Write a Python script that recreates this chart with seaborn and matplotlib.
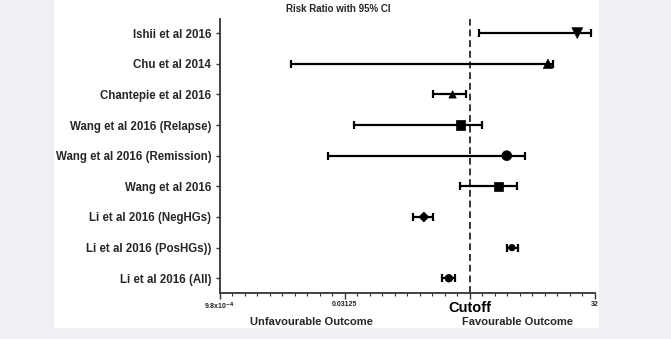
import numpy as np
import pandas as pd
import seaborn as sns
import matplotlib
matplotlib.use("Agg")
import matplotlib.pyplot as plt
from matplotlib.patches import Rectangle
from matplotlib.ticker import FixedLocator, NullFormatter

# Study labels, top to bottom
studies = [
    "Ishii et al 2016",
    "Chu et al 2014",
    "Chantepie et al 2016",
    "Wang et al 2016 (Relapse)",
    "Wang et al 2016 (Remission)",
    "Wang et al 2016",
    "Li et al 2016 (NegHGs)",
    "Li et al 2016 (PosHGs))",
    "Li et al 2016 (All)",
]
# Risk ratio estimates and 95% confidence limits
risk_ratio = [19.6, 8.7, 0.62, 0.77, 2.78, 2.20, 0.28, 3.21, 0.56]
ci_lower = [1.28, 0.0071, 0.36, 0.040, 0.0198, 0.77, 0.21, 2.82, 0.46]
ci_upper = [28.9, 10.0, 0.90, 1.39, 4.59, 3.65, 0.36, 3.75, 0.67]
# Marker shape per study
marker_shapes = ["v", "^", "^", "s", "o", "s", "D", "o", "o"]
marker_sizes = [60, 45, 28, 45, 50, 40, 25, 22, 30]

# Axis tick values (log2 scale)
major_ticks = [2.0 ** -10, 2.0 ** -5, 1.0, 2.0 ** 5]
major_labels = [r"9.8x10$^{-4}$", "0.03125", "Cutoff", "32"]

df = pd.DataFrame({
    "study": studies,
    "rr": risk_ratio,
    "lo": ci_lower,
    "hi": ci_upper,
    "row": np.arange(len(studies)),
})

sns.set_theme(style="white")
plt.rcParams["font.family"] = ["Liberation Sans", "DejaVu Sans"]
plt.rcParams["font.weight"] = "bold"

W, H = 671, 339
fig = plt.figure(figsize=(W / 100, H / 100), dpi=100)
fig.patch.set_facecolor("#eff0f5")
fig.patches.append(Rectangle((54 / W, 1 - 327.5 / H), (599 - 54) / W, 327.5 / H,
                             transform=fig.transFigure, facecolor="white",
                             edgecolor="none", zorder=-10))

ax = fig.add_axes([219.5 / W, 1 - 293 / H, (595 - 219.5) / W, (293 - 19) / H])
ax.set_zorder(1)
ax.set_facecolor("none")
ax.set_xscale("log", base=2)

# Confidence intervals
ax.errorbar(df["rr"], df["row"],
            xerr=[df["rr"] - df["lo"], df["hi"] - df["rr"]],
            fmt="none", ecolor="black", elinewidth=1.6,
            capsize=3.2, capthick=1.6, zorder=2)

# Point estimates
sns.scatterplot(data=df, x="rr", y="row", style="study",
                markers=dict(zip(studies, marker_shapes)),
                size="study", sizes=dict(zip(studies, marker_sizes)),
                color="black", edgecolor="black", linewidth=0.5,
                legend=False, ax=ax, zorder=3)

ax.axvline(1.0, color="black", lw=1.1, ls=(0, (4.5, 2.5)), zorder=1)

ax.set_xlim(2.0 ** -10, 2.0 ** 5)
ax.set_ylim(8.48, -0.46)

ax.xaxis.set_major_locator(FixedLocator(major_ticks))
ax.set_xticklabels(major_labels)
ax.xaxis.set_minor_locator(FixedLocator([2.0 ** (k / 2) for k in range(-20, 11)]))
ax.xaxis.set_minor_formatter(NullFormatter())
for lab in ax.get_xticklabels():
    lab.set_fontsize(5)
    lab.set_fontweight("bold")
    lab.set_color("#222222")
ax.get_xticklabels()[2].set_fontsize(10.5)
ax.get_xticklabels()[2].set_color("black")

ax.set_yticks(df["row"])
ax.set_yticklabels(studies, fontsize=8.3, fontweight="bold")

ax.tick_params(axis="x", which="major", direction="out", length=4, width=1.0,
               color="#333333", pad=1.5, bottom=True)
ax.tick_params(axis="x", which="minor", direction="out", length=2.2, width=0.8,
               color="#333333", bottom=True)
ax.tick_params(axis="y", direction="out", length=3, width=1.0, color="#333333",
               pad=3, left=True)

for side in ["top", "right"]:
    ax.spines[side].set_visible(False)
for side in ["left", "bottom"]:
    ax.spines[side].set_color("#333333")
    ax.spines[side].set_linewidth(1.3)

ax.set_xlabel("")
ax.set_ylabel("")

fig.text(338 / W, 1 - 9 / H, "Risk Ratio with 95% CI", ha="center", va="center",
         fontsize=7, fontweight="bold")
fig.text(311 / W, 1 - 322 / H, "Unfavourable Outcome", ha="center", va="center",
         fontsize=8, fontweight="bold")
fig.text(517 / W, 1 - 322 / H, "Favourable Outcome", ha="center", va="center",
         fontsize=8, fontweight="bold")

fig.savefig("out.png", dpi=100, facecolor=fig.get_facecolor())
